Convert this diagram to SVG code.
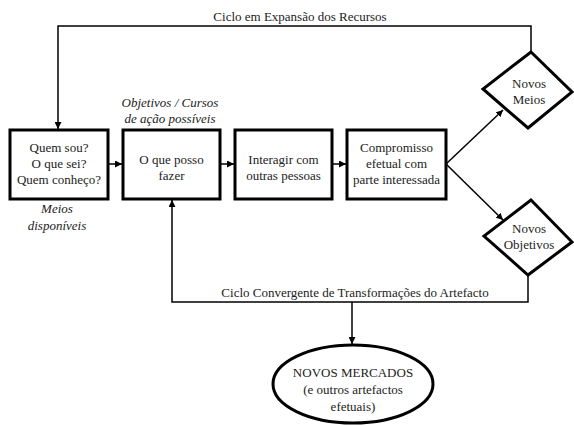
<svg xmlns="http://www.w3.org/2000/svg" width="574" height="425" viewBox="0 0 574 425">
<style>
text{font-family:'Liberation Serif','Times New Roman',serif;font-size:13px;fill:#222;text-anchor:middle}
.it{font-style:italic}
.box{fill:#fff;stroke:#000;stroke-width:3}
.con{fill:none;stroke:#000;stroke-width:1.5}
</style>
<defs>
<marker id="ah" viewBox="0 0 10 10" refX="10" refY="5" markerWidth="7" markerHeight="7" markerUnits="userSpaceOnUse" orient="auto"><path d="M0,0 L10,5 L0,10 z" fill="#000"/></marker>
</defs>
<rect width="574" height="425" fill="#fff"/>
<g id="connectors">
<polyline class="con" points="531,52 531,26 58,26 58,129" marker-end="url(#ah)"/>
<line class="con" x1="108" y1="164" x2="122" y2="164" marker-end="url(#ah)"/>
<line class="con" x1="220" y1="164" x2="234" y2="164" marker-end="url(#ah)"/>
<line class="con" x1="332" y1="164" x2="346" y2="164" marker-end="url(#ah)"/>
<line class="con" x1="446" y1="164" x2="503" y2="110" marker-end="url(#ah)"/>
<line class="con" x1="446" y1="164" x2="503" y2="220" marker-end="url(#ah)"/>
<polyline class="con" points="528,275 528,302 172,302 172,200" marker-end="url(#ah)"/>
<line class="con" x1="352" y1="302" x2="352" y2="344" marker-end="url(#ah)"/>
<text x="300" y="21">Ciclo em Expansão dos Recursos</text>
<text x="355" y="297">Ciclo Convergente de Transformações do Artefacto</text>
</g>
<g id="n1">
<rect class="box" x="10" y="130" width="98" height="69"/>
<text x="59" y="152">Quem sou?</text>
<text x="59" y="168">O que sei?</text>
<text x="59" y="184">Quem conheço?</text>
<text class="it" x="57" y="213">Meios</text>
<text class="it" x="57" y="230">disponíveis</text>
</g>
<g id="n2">
<rect class="box" x="123" y="130" width="97" height="69"/>
<text x="171.5" y="164">O que posso</text>
<text x="171.5" y="180">fazer</text>
<text class="it" x="170" y="107">Objetivos / Cursos</text>
<text class="it" x="170" y="123">de ação possíveis</text>
</g>
<g id="n3">
<rect class="box" x="235" y="130" width="97" height="69"/>
<text x="283.5" y="164">Interagir com</text>
<text x="283.5" y="180">outras pessoas</text>
</g>
<g id="n4">
<rect class="box" x="347" y="130" width="99" height="69"/>
<text x="396.5" y="152">Compromisso</text>
<text x="396.5" y="168">efetual com</text>
<text x="396.5" y="184">parte interessada</text>
</g>
<g id="n5">
<polygon class="box" points="531,52 572,92 528,128 483,89"/>
<text x="529" y="88">Novos</text>
<text x="529" y="104">Meios</text>
</g>
<g id="n6">
<polygon class="box" points="531,200 572,242 528,275 484,236"/>
<text x="529" y="233">Novos</text>
<text x="529" y="249">Objetivos</text>
</g>
<g id="n7">
<ellipse class="box" cx="353" cy="384" rx="80" ry="39"/>
<text x="353" y="377">NOVOS MERCADOS</text>
<text x="353" y="394">(e outros artefactos</text>
<text x="353" y="411">efetuais)</text>
</g>
</svg>
